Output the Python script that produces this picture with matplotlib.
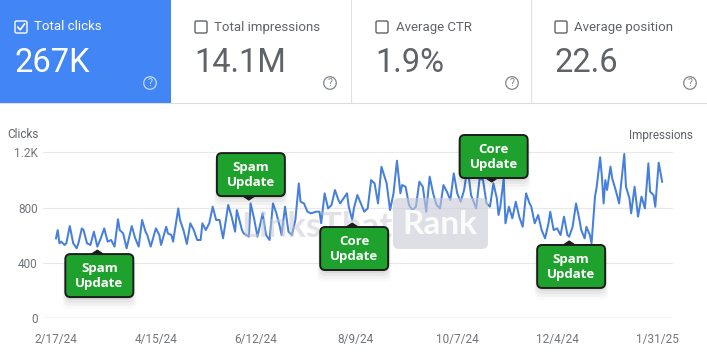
"""
Search Console style clicks chart with algorithm-update callouts.
Values read off a screenshot; layout tuned for a 707x360 png.
"""

import pandas as pd
import matplotlib

matplotlib.use("Agg")
import matplotlib.pyplot as plt
import matplotlib.transforms as mtransforms
from matplotlib.patches import FancyBboxPatch, Rectangle, Circle, Polygon
from matplotlib.lines import Line2D

# ---- DATA -------------------------------------------------------------------

START = "2024-02-17"

# day offsets from START and daily clicks (turning points)
day_offsets = [
    0, 1, 2, 3, 5, 6, 8, 10, 12, 13, 15, 16, 18, 20, 22, 24, 26, 28, 30, 32,
    34, 36, 37, 39, 41, 44, 46, 48, 50, 52, 53, 55, 58, 60, 61, 64, 65, 67, 68, 71,
    72, 74, 76, 78, 80, 82, 84, 85, 87, 89, 91, 93, 95, 97, 100, 102, 104, 105, 108, 109,
    112, 113, 115, 117, 120, 122, 124, 126, 128, 130, 131, 133, 135, 137, 139, 141, 142, 144, 146, 148,
    151, 153, 154, 156, 158, 160, 162, 164, 165, 169, 170, 172, 173, 175, 177, 179, 181, 183, 185, 187,
    189, 192, 194, 196, 198, 200, 201, 203, 205, 207, 209, 211, 213, 215, 217, 219, 221, 223, 225, 227,
    229, 231, 233, 235, 237, 239, 241, 244, 246, 248, 250, 252, 254, 256, 257, 258, 260, 261, 263, 265,
    267, 269, 271, 273, 275, 276, 278, 280, 282, 284, 286, 287, 289, 291, 293, 295, 297, 298, 300, 302,
    304, 305, 307, 308, 310, 311, 313, 314, 316, 317, 318, 319, 320, 322, 323, 325, 327, 330, 331, 333,
    334, 336, 338, 340, 342, 344, 345, 347, 348, 350, 352,
]
clicks = [
    577, 637, 541, 553, 529, 541, 666, 541, 505, 541, 649, 637, 541, 529, 625, 517, 577, 649, 553, 565,
    517, 715, 637, 613, 505, 666, 577, 517, 710, 625, 601, 517, 649, 601, 529, 661, 613, 601, 553, 794,
    710, 637, 536, 686, 637, 565, 565, 686, 637, 686, 806, 710, 710, 577, 818, 734, 625, 782, 637, 613,
    589, 830, 722, 589, 758, 601, 565, 830, 758, 661, 601, 806, 625, 601, 710, 975, 842, 830, 770, 758,
    770, 770, 686, 903, 794, 818, 927, 855, 830, 903, 806, 710, 794, 891, 830, 770, 794, 999, 975, 830,
    1096, 975, 782, 903, 1139, 903, 963, 951, 818, 782, 806, 987, 951, 770, 1024, 903, 818, 794, 963, 915,
    855, 1048, 903, 842, 927, 1096, 891, 794, 1011, 999, 830, 806, 975, 867, 746, 806, 1011, 686, 806, 722,
    842, 734, 661, 903, 830, 806, 686, 746, 637, 577, 686, 770, 637, 649, 601, 734, 601, 589, 661, 830,
    710, 637, 577, 661, 601, 541, 879, 951, 1164, 1024, 830, 999, 927, 1096, 1011, 927, 830, 1188, 951, 867,
    758, 951, 734, 879, 794, 1120, 915, 891, 806, 1125, 987,
]

card_titles = ["Total clicks", "Total impressions", "Average CTR", "Average position"]
card_values = ["267K", "14.1M", "1.9%", "22.6"]
card_checked = [True, False, False, False]

y_ticks = [0, 400, 800, 1200]
y_tick_labels = ["0", "400", "800", "1.2K"]
x_tick_dates = ["2024-02-17", "2024-04-15", "2024-06-12", "2024-08-09",
                "2024-10-07", "2024-12-04", "2025-01-31"]
x_tick_labels = ["2/17/24", "4/15/24", "6/12/24", "8/9/24", "10/7/24", "12/4/24", "1/31/25"]

event_labels = ["Spam\nUpdate", "Spam\nUpdate", "Core\nUpdate", "Core\nUpdate", "Spam\nUpdate"]
event_days = [24, 112, 172, 253, 298]
event_values = [492, 854, 688, 985, 558]
event_above = [False, True, False, True, False]

# ---- STYLE ------------------------------------------------------------------

W, H = 707, 360
BLUE = "#4285f4"
LINE = "#4680dc"
GREY_TXT = "#5f6368"
TICK_TXT = "#70757a"
GREEN = "#1fa22d"
BORDER = "#1c1c1c"
FONT = "Roboto"

# pixel coords measured from the top-left corner of the png
PX = mtransforms.Affine2D().scale(1, -1).translate(0, H)

card_x = [0, 171, 350, 530]
card_w = [171, 179, 180, 177]
content_x = [15, 195, 376, 555]
help_x = [150, 330, 512, 690]


def draw_card(fig, i):
    checked = card_checked[i]
    fg = "white" if checked else GREY_TXT
    if checked:
        fig.add_artist(Rectangle((card_x[i], 0), card_w[i], 103, transform=PX,
                                 fc=BLUE, ec="none", zorder=1))
    cx = content_x[i]
    fig.add_artist(FancyBboxPatch((cx, 21), 12, 12, boxstyle="round,pad=0,rounding_size=1.5",
                                  transform=PX, fc="none", ec=fg, lw=1.0, zorder=2))
    if checked:
        fig.add_artist(Line2D([cx + 2.8, cx + 5.2, cx + 9.5], [27.2, 29.8, 24.0], transform=PX,
                              color="white", lw=1.2, zorder=3))
    fig.text(cx + 19.5, 27, card_titles[i], transform=PX, ha="left", va="center",
             fontsize=9.5, color=fg, family=FONT)
    fig.text(cx - 0.5, 72, card_values[i], transform=PX, ha="left", va="baseline",
             fontsize=23.5, color="white" if checked else "#5f6368", family=FONT)
    hc = "#c6dafc" if checked else "#80868b"
    fig.add_artist(Circle((help_x[i], 83), 6.3, transform=PX, fc="none", ec=hc, lw=0.9, zorder=2))
    fig.text(help_x[i], 83.5, "?", transform=PX, ha="center", va="center",
             fontsize=7.5, color=hc, family=FONT)


def callout(fig, ax, day, val, text, above):
    dx, dy = ax.transData.transform((day, val))
    tx, ty = dx, H - dy
    bw, bh, gap = 68, 43, 4
    cx = tx + 2
    top = ty - gap - bh if above else ty + gap
    # soft drop shadow
    for k, a in enumerate([0.06, 0.045, 0.03, 0.02]):
        fig.add_artist(FancyBboxPatch((cx - bw / 2 - k, top + 3 + k), bw + 2 * k, bh + 2 * k,
                                      boxstyle="round,pad=0,rounding_size=7", transform=PX,
                                      fc="black", ec="none", alpha=a, zorder=4))
    edge = top + bh if above else top
    fig.add_artist(Polygon([(tx - 6, edge), (tx + 6, edge), (tx, ty)], closed=True,
                           transform=PX, fc=BORDER, ec=BORDER, lw=0.8, zorder=5))
    fig.add_artist(FancyBboxPatch((cx - bw / 2, top), bw, bh,
                                  boxstyle="round,pad=0,rounding_size=5", transform=PX,
                                  fc=GREEN, ec=BORDER, lw=1.4, zorder=6))
    fig.text(cx, top + bh / 2 + 0.5, text, transform=PX, ha="center", va="center",
             fontsize=9.5, fontweight="bold", color="white", family="Open Sans",
             linespacing=1.15, zorder=7)


def main():
    start = pd.Timestamp(START)
    tick_pos = [(pd.Timestamp(d) - start).days for d in x_tick_dates]

    fig = plt.figure(figsize=(W / 100, H / 100), dpi=100)
    fig.patch.set_facecolor("white")

    # --- metric cards ---
    for i in range(len(card_titles)):
        draw_card(fig, i)
    for xs in (350.5, 530.5):
        fig.add_artist(Line2D([xs, xs], [0, 103], transform=PX, color="#e0e0e0", lw=0.8))
    fig.add_artist(Line2D([0, W], [103, 103], transform=PX, color="#dadce0", lw=0.8))

    # --- chart ---
    ax = fig.add_axes([43 / W, 42 / H, 630 / W, 178 / H])
    ax.set_xlim(-7.55, 358.3)
    ax.set_ylim(0, 1289.3)
    for s in ax.spines.values():
        s.set_visible(False)
    for yv in y_ticks[1:]:
        ax.axhline(yv, color="#e8e8e8", lw=0.8, zorder=0)
    ax.axhline(0, color="#9aa0a6", lw=0.9, zorder=1)
    ax.plot(day_offsets, clicks, color=LINE, lw=1.45, zorder=3, solid_joinstyle="round")

    ax.set_yticks(y_ticks)
    ax.set_yticklabels(y_tick_labels)
    ax.set_xticks(tick_pos)
    ax.set_xticklabels(x_tick_labels)
    ax.tick_params(axis="y", length=0, pad=3.8, labelsize=8.5, labelcolor=TICK_TXT)
    ax.tick_params(axis="x", length=0, pad=10.5, labelsize=8.5, labelcolor=TICK_TXT)
    for lab in ax.get_xticklabels() + ax.get_yticklabels():
        lab.set_family(FONT)

    fig.text(7, 135, "Clicks", transform=PX, ha="left", va="center",
             fontsize=8.5, color=GREY_TXT, family=FONT)
    fig.text(693, 135, "Impressions", transform=PX, ha="right", va="center",
             fontsize=8.5, color=GREY_TXT, family=FONT)

    # --- watermark ---
    fig.text(392, 227, "LinksThat", transform=PX, ha="right", va="center", fontsize=25,
             fontweight="bold", color="#c4c5d0", alpha=0.5, family="Lato", zorder=2)
    fig.add_artist(FancyBboxPatch((393, 198), 95, 51, boxstyle="round,pad=0,rounding_size=6",
                                  transform=PX, fc="#c9cad6", ec="none", alpha=0.6, zorder=2))
    fig.text(440, 225, "Rank", transform=PX, ha="center", va="center", fontsize=24,
             fontweight="bold", color="white", alpha=0.9, family="Lato", zorder=2)

    # --- update callouts ---
    for lbl, d, v, up in zip(event_labels, event_days, event_values, event_above):
        callout(fig, ax, d, v, lbl, up)

    fig.savefig("out.png", dpi=100)


if __name__ == "__main__":
    main()
